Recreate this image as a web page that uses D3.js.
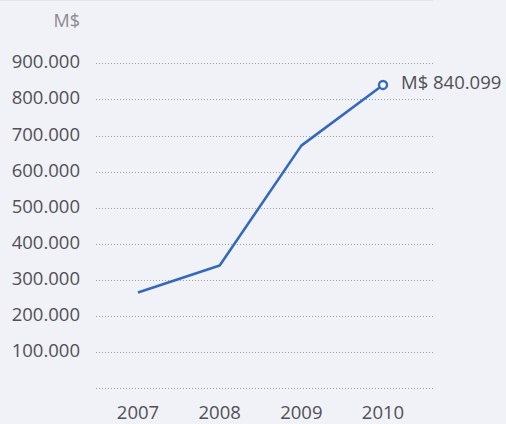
<!DOCTYPE html>
<html>
<head>
<meta charset="utf-8">
<script src="https://cdn.jsdelivr.net/npm/d3@7"></script>
<style>
  html, body { margin: 0; padding: 0; background: #f0f2f7; }
  svg { display: block; }
  text { font-family: "Open Sans", sans-serif; }
</style>
</head>
<body>
<svg width="506" height="424"></svg>
<script>
// data
const years = ["2007", "2008", "2009", "2010"];
const values = [265000, 340000, 672000, 840099];
const yTicks = [0, 100000, 200000, 300000, 400000, 500000, 600000, 700000, 800000, 900000];
const unitLabel = "M$";
const lastLabel = "M$ 840.099";

const width = 506;
const height = 424;

const svg = d3.select("svg");

// fondo y borde superior
svg.append("rect").attr("width", width).attr("height", height).attr("fill", "#f0f2f7");
svg.append("line")
    .attr("x1", 0).attr("x2", 433).attr("y1", 0.5).attr("y2", 0.5)
    .attr("stroke", "#e0e4ec").attr("stroke-width", 1);

// escalas
const x = d3.scalePoint().domain(years).range([138, 383]);
const y = d3.scaleLinear().domain([0, 900000]).range([388.3, 63.3]);

const fmt = (v) => d3.format(",")(v).replace(/,/g, ".");

// lineas de grilla punteadas
svg.append("g")
    .selectAll("line")
    .data(yTicks)
    .join("line")
    .attr("x1", 96)
    .attr("x2", 433)
    .attr("y1", (d) => Math.round(y(d)) + 0.5)
    .attr("y2", (d) => Math.round(y(d)) + 0.5)
    .attr("stroke", "#a0a0a6")
    .attr("stroke-width", 1)
    .attr("stroke-dasharray", "1,2");

// etiquetas eje y
svg.append("g")
    .selectAll("text")
    .data(yTicks.filter((d) => d > 0))
    .join("text")
    .attr("x", 80)
    .attr("y", (d) => y(d) + 5)
    .attr("text-anchor", "end")
    .attr("font-size", 18.5)
    .attr("fill", "#505055")
    .text(fmt);

svg.append("text")
    .attr("x", 80)
    .attr("y", 27)
    .attr("text-anchor", "end")
    .attr("font-size", 18)
    .attr("fill", "#8a8a90")
    .text(unitLabel);

// etiquetas eje x
svg.append("g")
    .selectAll("text")
    .data(years)
    .join("text")
    .attr("x", (d) => x(d))
    .attr("y", 419)
    .attr("text-anchor", "middle")
    .attr("font-size", 18.5)
    .attr("fill", "#505055")
    .text((d) => d);

// linea
const line = d3.line()
    .x((d, i) => x(years[i]))
    .y((d) => y(d));

svg.append("path")
    .datum(values)
    .attr("d", line)
    .attr("fill", "none")
    .attr("stroke", "#3569bb")
    .attr("stroke-width", 2.6)
    .attr("stroke-linejoin", "round");

// marcador final
const last = values.length - 1;
svg.append("circle")
    .attr("cx", x(years[last]))
    .attr("cy", y(values[last]))
    .attr("r", 4)
    .attr("fill", "#fff")
    .attr("stroke", "#3569bb")
    .attr("stroke-width", 2.4);

svg.append("text")
    .attr("x", x(years[last]) + 18)
    .attr("y", y(values[last]) + 4)
    .attr("font-size", 18.5)
    .attr("fill", "#505055")
    .text(lastLabel);
</script>
</body>
</html>
